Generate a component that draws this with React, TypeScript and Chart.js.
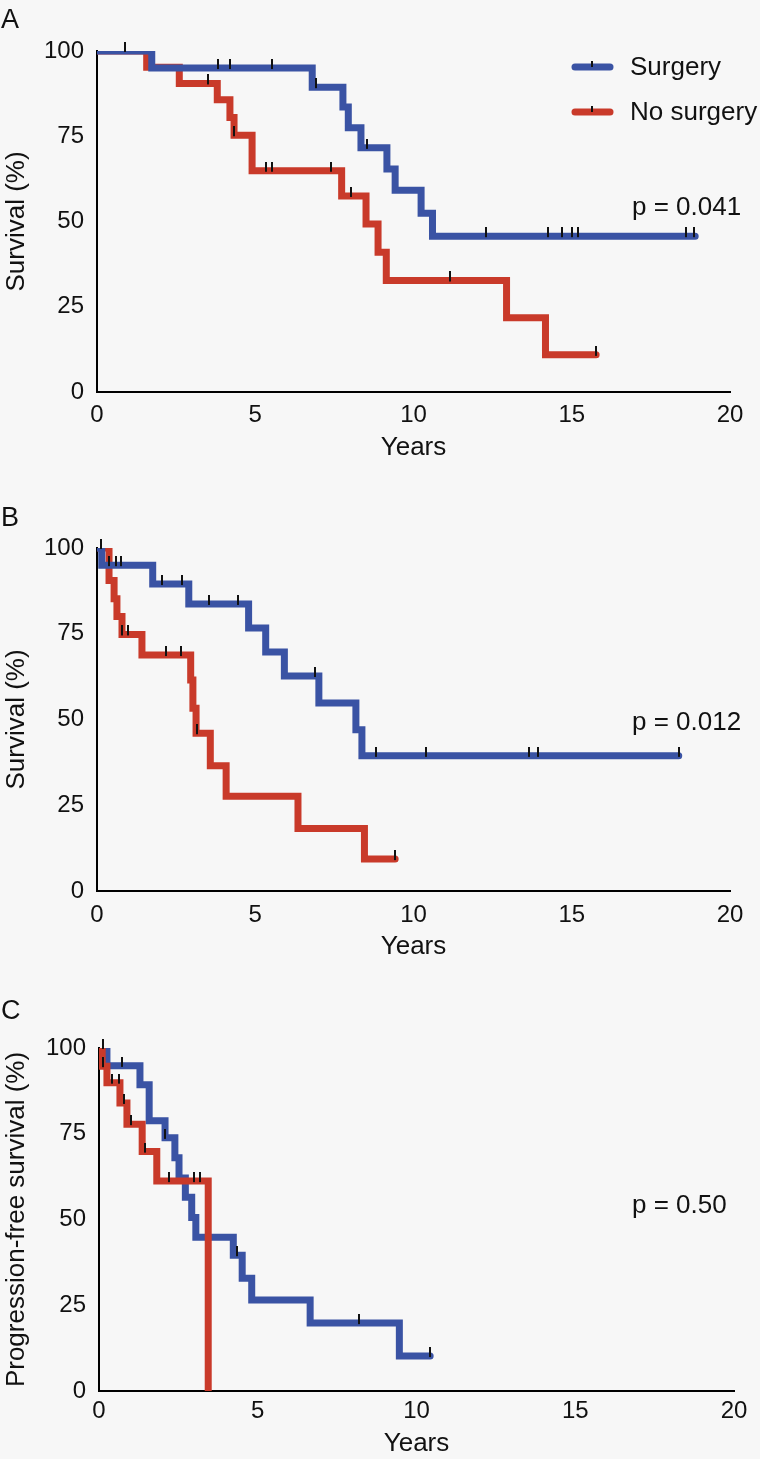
import React, { useEffect, useRef } from "react";
import { Chart, registerables } from "chart.js";

Chart.register(...registerables);

// ---------- shared ----------
const xTickValues = [0, 5, 10, 15, 20];
const yTickValues = [0, 25, 50, 75, 100];
const seriesLabels = ["Surgery", "No surgery"];
const xAxisTitle = "Years";

// ---------- Panel A: overall survival ----------
const aSurgeryYears = [0, 1.73, 6.8, 7.77, 7.94, 8.34, 9.16, 9.42, 10.24, 10.6, 18.9];
const aSurgerySurvival = [100, 95, 89.4, 83.6, 77.5, 71.6, 65.4, 59.2, 52.4, 45.7, 45.7];
const aSurgeryCensorYears = [0.9, 3.82, 4.2, 5.52, 6.92, 8.52, 12.3, 14.25, 14.7, 15.0, 15.2, 18.6, 18.85];
const aSurgeryCensorSurvival = [100, 95, 95, 95, 89.4, 71.6, 45.7, 45.7, 45.7, 45.7, 45.7, 45.7, 45.7];
const aNoSurgeryYears = [0, 1.57, 2.6, 3.8, 4.2, 4.33, 4.9, 7.73, 8.5, 8.88, 9.14, 12.94, 14.17, 15.77];
const aNoSurgerySurvival = [100, 95.2, 90.5, 85.7, 80.5, 75.3, 64.9, 57.5, 49.3, 41, 32.7, 21.8, 10.9, 10.9];
const aNoSurgeryCensorYears = [3.5, 4.33, 5.33, 5.52, 7.4, 8.02, 11.14, 15.77];
const aNoSurgeryCensorSurvival = [90.5, 75.3, 64.9, 64.9, 64.9, 57.5, 32.7, 10.9];

// ---------- Panel B: overall survival ----------
const bSurgeryYears = [0, 0.15, 1.76, 2.9, 4.79, 5.33, 5.92, 7.01, 8.18, 8.37, 18.38];
const bSurgerySurvival = [100, 95, 89.5, 83.7, 76.7, 69.7, 62.7, 54.8, 47.0, 39.4, 39.4];
const bSurgeryCensorYears = [0.13, 0.38, 0.6, 0.75, 2.05, 2.68, 3.54, 4.46, 6.89, 8.83, 10.4, 13.66, 13.93, 18.38];
const bSurgeryCensorSurvival = [100, 95, 95, 95, 89.5, 89.5, 83.7, 83.7, 62.7, 39.4, 39.4, 39.4, 39.4, 39.4];
const bNoSurgeryYears = [0, 0.38, 0.54, 0.63, 0.79, 1.42, 2.96, 3.03, 3.13, 3.58, 4.08, 6.35, 8.45, 9.42];
const bNoSurgerySurvival = [100, 90.5, 85.2, 80, 74.8, 68.8, 61.5, 53.3, 46, 36.5, 27.6, 18.2, 9.3, 9.3];
const bNoSurgeryCensorYears = [0.79, 0.98, 2.18, 2.65, 3.15, 9.42];
const bNoSurgeryCensorSurvival = [74.8, 74.8, 68.8, 68.8, 46, 9.3];

// ---------- Panel C: progression-free survival ----------
const cSurgeryYears = [0, 0.25, 1.29, 1.58, 2.08, 2.39, 2.52, 2.72, 2.92, 3.05, 4.23, 4.51, 4.81, 6.65, 9.46, 10.43];
const cSurgerySurvival = [100, 94.8, 89.3, 78.8, 73.8, 68, 62.1, 56.5, 50.6, 44.8, 39.6, 32.9, 26.5, 19.8, 10.2, 10.2];
const cSurgeryCensorYears = [0.13, 0.73, 2.08, 4.34, 8.2, 10.43];
const cSurgeryCensorSurvival = [100, 94.8, 73.8, 39.6, 19.8, 10.2];
const cNoSurgeryYears = [0, 0.1, 0.25, 0.66, 0.88, 1.36, 1.82, 3.44];
const cNoSurgerySurvival = [100, 94.7, 89.9, 84, 77.8, 69.8, 61.2, 0];
const cNoSurgeryCensorYears = [0.13, 0.42, 0.63, 0.8, 1.0, 1.45, 2.2, 3.0, 3.17];
const cNoSurgeryCensorSurvival = [94.7, 89.9, 89.9, 84, 77.8, 69.8, 61.2, 61.2, 61.2];

// ---------- styles ----------
const FONT = "'Liberation Sans', Arial, Helvetica, sans-serif";
const BLUE = "#3A53A4";
const RED = "#C93A2A";
const TEXT = "#111111";
const BG = "#f7f7f7";

type PanelCfg = {
  letter: string;
  top: number;
  height: number;
  areaTop: number;
  xAxisH: number;
  yAxisW: number;
  padRight: number;
  xTickPad: number;
  xTitlePad: number;
  yTitle: string;
  letterBaseline: number;
  pText: string;
  pX: number;
  pBaseline: number;
  legend: boolean;
  redOnTop: boolean;
  surgery: [number[], number[], number[], number[]];
  noSurgery: [number[], number[], number[], number[]];
};

const panels: PanelCfg[] = [
  {
    letter: "A", top: 0, height: 475, areaTop: 51, xAxisH: 83, yAxisW: 97, padRight: 30,
    xTickPad: 9, xTitlePad: 12, yTitle: "Survival (%)", letterBaseline: 28,
    pText: "p = 0.041", pX: 632, pBaseline: 215, legend: true, redOnTop: false,
    surgery: [aSurgeryYears, aSurgerySurvival, aSurgeryCensorYears, aSurgeryCensorSurvival],
    noSurgery: [aNoSurgeryYears, aNoSurgerySurvival, aNoSurgeryCensorYears, aNoSurgeryCensorSurvival],
  },
  {
    letter: "B", top: 475, height: 490, areaTop: 73, xAxisH: 74, yAxisW: 97, padRight: 30,
    xTickPad: 10, xTitlePad: 3, yTitle: "Survival (%)", letterBaseline: 51,
    pText: "p = 0.012", pX: 632, pBaseline: 255, legend: false, redOnTop: false,
    surgery: [bSurgeryYears, bSurgerySurvival, bSurgeryCensorYears, bSurgeryCensorSurvival],
    noSurgery: [bNoSurgeryYears, bNoSurgerySurvival, bNoSurgeryCensorYears, bNoSurgeryCensorSurvival],
  },
  {
    letter: "C", top: 965, height: 494, areaTop: 83, xAxisH: 68, yAxisW: 99, padRight: 26,
    xTickPad: 6, xTitlePad: 0, yTitle: "Progression-free survival (%)", letterBaseline: 54,
    pText: "p = 0.50", pX: 632, pBaseline: 248, legend: false, redOnTop: true,
    surgery: [cSurgeryYears, cSurgerySurvival, cSurgeryCensorYears, cSurgeryCensorSurvival],
    noSurgery: [cNoSurgeryYears, cNoSurgerySurvival, cNoSurgeryCensorYears, cNoSurgeryCensorSurvival],
  },
];

let censorMarkCache: HTMLCanvasElement | null = null;
function censorMark(): HTMLCanvasElement {
  if (censorMarkCache) return censorMarkCache;
  const c = document.createElement("canvas");
  c.width = 2;
  c.height = 18;
  const g = c.getContext("2d")!;
  g.fillStyle = "#111";
  g.fillRect(0, 0, 2, 10);
  censorMarkCache = c;
  return c;
}

const toPoints = (xs: number[], ys: number[]) => xs.map((x, i) => ({ x, y: ys[i] }));

const decorPlugin = {
  id: "panelDecor",
  afterDraw(chart: any, _args: any, opts: any) {
    const ctx: CanvasRenderingContext2D = chart.ctx;
    ctx.save();
    ctx.fillStyle = TEXT;
    ctx.textBaseline = "alphabetic";
    ctx.textAlign = "left";
    ctx.font = `27px ${FONT}`;
    ctx.fillText(opts.letter, 1, opts.letterBaseline);
    ctx.font = `26px ${FONT}`;
    ctx.fillText(opts.pText, opts.pX, opts.pBaseline);
    if (opts.legend) {
      const items = chart.data.datasets.filter((d: any) => d.isCurve);
      const ordered = [...items].sort((a: any, b: any) => a.legendIndex - b.legendIndex);
      ordered.forEach((d: any, i: number) => {
        const y = 67 + i * 45;
        ctx.strokeStyle = d.borderColor;
        ctx.lineWidth = 7;
        ctx.lineCap = "round";
        ctx.beginPath();
        ctx.moveTo(575, y);
        ctx.lineTo(610, y);
        ctx.stroke();
        ctx.fillStyle = "#111";
        ctx.fillRect(591, y - 6, 2, 6);
        ctx.fillStyle = TEXT;
        ctx.fillText(d.label, 630, y + 8);
      });
    }
    ctx.restore();
  },
};

function KMPanel({ p }: { p: PanelCfg }) {
  const ref = useRef<HTMLCanvasElement>(null);
  useEffect(() => {
    const mark = censorMark();
    const curve = (label: string, color: string, xs: number[], ys: number[], order: number, legendIndex: number) => ({
      type: "line" as const,
      label,
      isCurve: true,
      legendIndex,
      data: toPoints(xs, ys),
      borderColor: color,
      backgroundColor: color,
      borderWidth: 7,
      stepped: "before" as const,
      borderCapStyle: "round" as const,
      borderJoinStyle: "miter" as const,
      pointRadius: 0,
      fill: false,
      order,
    });
    const censors = (label: string, xs: number[], ys: number[]) => ({
      type: "line" as const,
      label,
      data: toPoints(xs, ys),
      showLine: false,
      pointStyle: mark,
      pointRadius: 3,
      borderColor: "#111",
      backgroundColor: "#111",
      clip: false as const,
      order: 0,
    });
    const datasets: any[] = [
      censors("Surgery censored", p.surgery[2], p.surgery[3]),
      censors("No surgery censored", p.noSurgery[2], p.noSurgery[3]),
      curve(seriesLabels[0], BLUE, p.surgery[0], p.surgery[1], p.redOnTop ? 2 : 1, 0),
      curve(seriesLabels[1], RED, p.noSurgery[0], p.noSurgery[1], p.redOnTop ? 1 : 2, 1),
    ];
    const chart = new Chart(ref.current!, {
      type: "line",
      data: { datasets },
      options: {
        responsive: false,
        animation: false,
        events: [],
        layout: { padding: { top: p.areaTop, right: p.padRight, left: 0, bottom: 0 } },
        plugins: {
          legend: { display: false },
          tooltip: { enabled: false },
          panelDecor: {
            letter: p.letter,
            letterBaseline: p.letterBaseline,
            pText: p.pText,
            pX: p.pX,
            pBaseline: p.pBaseline,
            legend: p.legend,
          },
        } as any,
        scales: {
          x: {
            type: "linear",
            min: 0,
            max: 20,
            afterBuildTicks: (s: any) => {
              s.ticks = xTickValues.map((v) => ({ value: v }));
            },
            afterFit: (s: any) => {
              s.height = p.xAxisH;
              s.paddingLeft = 0;
              s.paddingRight = 0;
            },
            grid: { display: false, drawTicks: false },
            border: { display: true, color: "#000", width: 2 },
            ticks: {
              padding: p.xTickPad,
              color: TEXT,
              font: { size: 24, family: FONT },
              maxRotation: 0,
              autoSkip: false,
            },
            title: {
              display: true,
              text: xAxisTitle,
              color: TEXT,
              font: { size: 26, family: FONT },
              padding: { top: 0, bottom: p.xTitlePad },
            },
          },
          y: {
            type: "linear",
            min: 0,
            max: 100,
            afterBuildTicks: (s: any) => {
              s.ticks = yTickValues.map((v) => ({ value: v }));
            },
            afterFit: (s: any) => {
              s.width = p.yAxisW;
              s.paddingTop = 0;
              s.paddingBottom = 0;
            },
            grid: { display: false, drawTicks: false },
            border: { display: true, color: "#000", width: 2 },
            ticks: {
              padding: 13,
              color: TEXT,
              font: { size: 24, family: FONT },
              autoSkip: false,
            },
            title: {
              display: true,
              text: p.yTitle,
              color: TEXT,
              font: { size: 26, family: FONT },
              padding: { top: 1, bottom: 0 },
            },
          },
        },
      },
      plugins: [decorPlugin],
    } as any);
    return () => chart.destroy();
  }, [p]);
  return (
    <canvas
      ref={ref}
      width={760}
      height={p.height}
      style={{ position: "absolute", left: 0, top: p.top, width: 760, height: p.height, display: "block" }}
    />
  );
}

export default function App() {
  return (
    <div
      style={{
        position: "absolute",
        left: 0,
        top: 0,
        width: 760,
        height: 1459,
        background: BG,
        overflow: "hidden",
      }}
    >
      {panels.map((p) => (
        <KMPanel key={p.letter} p={p} />
      ))}
    </div>
  );
}
